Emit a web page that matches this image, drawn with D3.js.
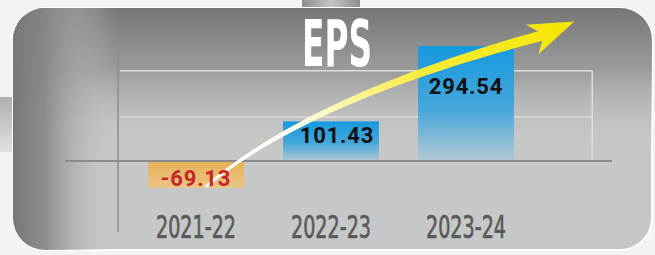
<!DOCTYPE html>
<html><head><meta charset="utf-8">
<script src="https://cdn.jsdelivr.net/npm/d3@7"></script>
<style>html,body{margin:0;padding:0;background:#f3f3f3;}svg{display:block;}</style>
</head><body>
<script>
const categories = ["2021-22", "2022-23", "2023-24"];
const values = [-69.13, 101.43, 294.54];
const valueLabels = ["-69.13", "101.43", "294.54"];
const gridTicks = [113, 231];
const title = "EPS";

const W = 655, H = 255;
const svg = d3.select("body").append("svg").attr("width", W).attr("height", H);
const defs = svg.append("defs");

function lin(id, x1, y1, x2, y2, stops, units) {
  const g = defs.append("linearGradient").attr("id", id)
    .attr("x1", x1).attr("y1", y1).attr("x2", x2).attr("y2", y2);
  if (units) g.attr("gradientUnits", units);
  stops.forEach(s => g.append("stop").attr("offset", s[0]).attr("stop-color", s[1]).attr("stop-opacity", s[2] == null ? 1 : s[2]));
  return g;
}
lin("panelTop", 0, 0, 0, 1, [[0, "#767676", 1], [0.25, "#8e8e8e", 0.8], [0.45, "#b0b0b0", 0.35], [0.6, "#c4c6c6", 0]]);
lin("panelLeft", 0, 0, 1, 0, [[0, "#777777", 1], [0.05, "#868686", 0.9], [0.1, "#a8a8a8", 0.55], [0.16, "#c4c6c6", 0]]);
lin("posBar", 0, 0, 0, 1, [[0, "#1699df"], [0.55, "#45a7da"], [1, "#b3c8d3"]]);
lin("negBar", 0, 0, 0, 1, [[0, "#e8b055"], [1, "#eac486"]]);
lin("blobL", 0, 0, 0, 1, [[0, "#b0b0b0"], [0.5, "#c8c8c8"], [1, "#e2e2e2"]]);
lin("blobT", 0, 0, 1, 0, [[0, "#8e8e8e"], [0.5, "#c4c4c4"], [1, "#8e8e8e"]]);

// decorative background pieces
svg.append("rect").attr("x", 0).attr("y", 97).attr("width", 14).attr("height", 55).attr("fill", "url(#blobL)");
svg.append("rect").attr("x", 302).attr("y", 0).attr("width", 58).attr("height", 8).attr("fill", "url(#blobT)");

// panel
const px = 13, py = 8, pw = 639, ph = 242, pr = 32;
svg.append("rect").attr("x", px).attr("y", py).attr("width", pw).attr("height", ph).attr("rx", pr)
  .attr("fill", "#c6c8c8").attr("stroke", "#ffffff").attr("stroke-width", 2);
svg.append("rect").attr("x", px).attr("y", py).attr("width", pw).attr("height", ph).attr("rx", pr).attr("fill", "url(#panelTop)");
svg.append("rect").attr("x", px).attr("y", py).attr("width", pw).attr("height", ph).attr("rx", pr).attr("fill", "url(#panelLeft)");

// scales
const y = d3.scaleLinear().domain([-182, 310]).range([232, 40]);
const x = d3.scaleBand().domain(categories).range([128.5, 533.5]).paddingInner(0.29).paddingOuter(0.145);
const bw = x.bandwidth(), step = x.step();
const xc = c => x(c) + bw / 2;

// grid
const gridRight = x(categories[2]) + bw + 0.58 * step;
svg.append("g").selectAll("line").data(gridTicks).join("line")
  .attr("x1", 120).attr("x2", gridRight).attr("y1", d => y(d)).attr("y2", d => y(d))
  .attr("stroke", "#dedede").attr("stroke-width", 1.5);
svg.append("line").attr("x1", gridRight).attr("x2", gridRight).attr("y1", y(d3.max(gridTicks))).attr("y2", y(0))
  .attr("stroke", "#dedede").attr("stroke-width", 1.5);

// vertical axis
svg.append("line").attr("x1", 118).attr("x2", 118).attr("y1", y.range()[1]).attr("y2", y.range()[0])
  .attr("stroke", "#8e8e8e").attr("stroke-width", 1.5);

// bars
svg.append("g").selectAll("rect").data(values).join("rect")
  .attr("x", (d, i) => x(categories[i])).attr("width", bw)
  .attr("y", d => y(Math.max(0, d))).attr("height", d => Math.abs(y(d) - y(0)))
  .attr("fill", d => d < 0 ? "url(#negBar)" : "url(#posBar)");

// zero line
svg.append("line").attr("x1", 65).attr("x2", 612).attr("y1", y(0)).attr("y2", y(0))
  .attr("stroke", "#8a8a8a").attr("stroke-width", 2);

// x axis labels
const xAxis = d3.axisBottom(x).tickSize(0).tickPadding(0);
const gx = svg.append("g").attr("transform", `translate(0,${y(0)})`).call(xAxis);
gx.select(".domain").remove();
gx.selectAll("text")
  .attr("y", 238 - y(0)).attr("dy", 0)
  .attr("font-family", "'Liberation Sans Narrow', 'DejaVu Sans Condensed', sans-serif")
  .attr("font-weight", 400)
  .attr("stroke", "#5a5a5a").attr("stroke-width", 0.7)
  .attr("font-size", 32).attr("fill", "#5a5a5a")
  .attr("textLength", 80).attr("lengthAdjust", "spacingAndGlyphs");

// arrow (annotation anchored to data positions)
const P0 = [xc(categories[0]) + 0.07 * step, y(values[0]) - 1];
const C = [xc(categories[1]) - 0.16 * step, (2 * y(values[1]) + y(values[2])) / 3 + 2];
const P2 = [xc(categories[2]) + 0.55 * step, y(values[2]) - 10];
const bez = t => [
  (1 - t) * (1 - t) * P0[0] + 2 * (1 - t) * t * C[0] + t * t * P2[0],
  (1 - t) * (1 - t) * P0[1] + 2 * (1 - t) * t * C[1] + t * t * P2[1]
];
const bezD = t => [
  2 * (1 - t) * (C[0] - P0[0]) + 2 * t * (P2[0] - C[0]),
  2 * (1 - t) * (C[1] - P0[1]) + 2 * t * (P2[1] - C[1])
];
const N = 40, left = [], right = [];
for (let i = 0; i <= N; i++) {
  const t = i / N, p = bez(t), dv = bezD(t);
  const len = Math.hypot(dv[0], dv[1]);
  const nx = -dv[1] / len, ny = dv[0] / len;
  const w = (1.2 + 4.0 * Math.pow(t, 1.1));
  left.push([p[0] + nx * w, p[1] + ny * w]);
  right.push([p[0] - nx * w, p[1] - ny * w]);
}
// head
const hd = (() => { const v = [35, -15]; const l = Math.hypot(v[0], v[1]); return [v[0] / l, v[1] / l]; })();
const hn = [-hd[1], hd[0]];
const tip = [P2[0] + hd[0] * 37, P2[1] + hd[1] * 37];
const barbA = [P2[0] - hd[0] * 9 + hn[0] * 16, P2[1] - hd[1] * 9 + hn[1] * 16];
const barbB = [P2[0] - hd[0] * 9 - hn[0] * 16, P2[1] - hd[1] * 9 - hn[1] * 16];
const notchA = [P2[0] + hn[0] * 5.2, P2[1] + hn[1] * 5.2];
const notchB = [P2[0] - hn[0] * 5.2, P2[1] - hn[1] * 5.2];
lin("arrowGrad", P0[0], P0[1], tip[0], tip[1],
  [[0, "#ffffff"], [0.25, "#fffef4"], [0.42, "#fbf59a"], [0.6, "#f7ec3c"], [1, "#f5e600"]], "userSpaceOnUse");
const pts = [...left, notchA, barbA, tip, barbB, notchB, ...right.reverse()];
svg.append("path").attr("d", d3.line()(pts) + "Z").attr("fill", "url(#arrowGrad)");

// value labels
svg.append("g").selectAll("text").data(values).join("text")
  .attr("x", (d, i) => xc(categories[i]) + (i === 1 ? 6 : 0))
  .attr("y", d => y(0.65 * d))
  .attr("dominant-baseline", "central").attr("text-anchor", "middle")
  .attr("font-family", "Roboto, 'Open Sans', sans-serif").attr("font-weight", 700)
  .attr("font-size", 22).attr("letter-spacing", 0.8)
  .attr("fill", d => d < 0 ? "#c4262b" : "#111111")
  .text((d, i) => valueLabels[i]);

// title
svg.append("text").attr("x", 337).attr("y", 66).attr("text-anchor", "middle")
  .attr("font-family", "'Liberation Sans Narrow', 'DejaVu Sans Condensed', sans-serif")
  .attr("font-weight", 700).attr("font-size", 64).attr("fill", "#ffffff")
  .attr("textLength", 70).attr("lengthAdjust", "spacingAndGlyphs")
  .text(title);
</script>
</body></html>
